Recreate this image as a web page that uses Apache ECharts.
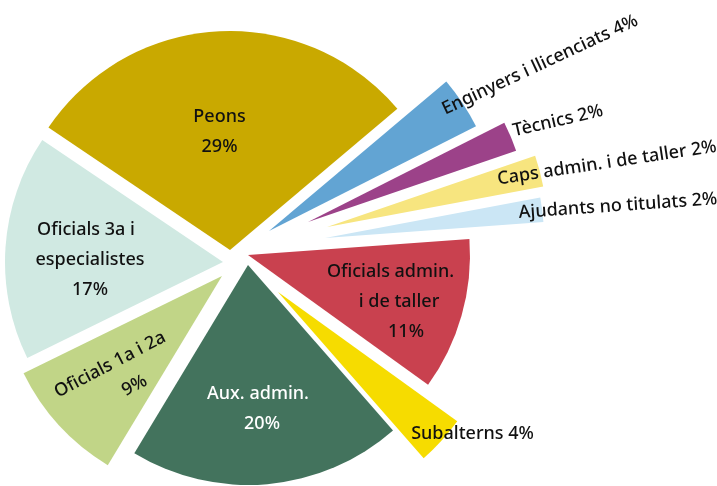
<!DOCTYPE html>
<html>
<head>
<meta charset="utf-8">
<script src="https://cdn.jsdelivr.net/npm/echarts@6/dist/echarts.min.js"></script>
<style>
  html, body { margin: 0; background: #fff; }
  #chart { width: 717px; height: 486px; }
</style>
</head>
<body>
<div id="chart"></div>
<script>
// data
const categories = ['Peons', 'Enginyers i llicenciats', 'Tècnics', 'Caps admin. i de taller', 'Ajudants no titulats',
  'Oficials admin. i de taller', 'Subalterns', 'Aux. admin.', 'Oficials 1a i 2a', 'Oficials 3a i especialistes']
const values = [29.4, 3.7, 2.2, 2.3, 1.8, 11.1, 3.6, 20.1, 9.1, 16.7]
// label text, {p} = rounded percent
const labelText = ['Peons\n{p}', 'Enginyers i llicenciats {p}', 'Tècnics {p}', 'Caps admin. i de taller {p}',
  'Ajudants no titulats {p}', 'Oficials admin.\ni de taller\n{p}', 'Subalterns {p}', 'Aux. admin.\n{p}',
  'Oficials 1a i 2a\n{p}', 'Oficials 3a i\nespecialistes\n{p}']

// styles / layout
const colors = ['#c9a900', '#62a4d3', '#9c4289', '#f7e57f', '#cbe6f5', '#c9414f', '#f6dc00', '#43735d', '#c1d587', '#d0e9e2']
const textColors = ['#111', '#111', '#111', '#111', '#111', '#111', '#111', '#fff', '#111', '#111']
const apex = [[230, 250], [269, 231], [308, 222], [327, 227], [325, 238], [248, 255], [278, 292], [248, 265], [222, 276], [223, 262]]
const radii = [219, 232, 220, 220, 219, 222, 221, 220, 221, 218]
const labelPos = [[219.5, 131.7], [540, 65], [558, 121], [607, 163], [618, 206], [399, 301.7], [472.5, 434], [260, 408.5], [117, 378], [90, 260]]
const labelRot = [0, 25, 13, 8.5, 4, 0, 0, 0, 27.6, 0]
const lineShift = [[0, 0], [0], [0], [0], [0], [-8.5, 0, 7], [0], [-2, 2], [0, 12], [-4, 0, 0]]

const font = { fontFamily: 'Noto Sans', fontSize: 18, fontWeight: 500, lineHeight: 30 }
const total = values.reduce((a, b) => a + b, 0)

const chart = echarts.init(document.getElementById('chart'))

const series = categories.map((name, i) => {
  const pct = Math.round(values[i] / total * 100) + '%'
  const lines = labelText[i].replace('{p}', pct).split('\n')
  const rich = {}
  lines.forEach((_, k) => {
    const s = lineShift[i][k] || 0
    rich['l' + k] = Object.assign({ color: textColors[i], padding: s > 0 ? [0, 0, 0, 2 * s] : [0, -2 * s, 0, 0] }, font)
  })
  const text = lines.map((t, k) => '{l' + k + '|' + t + '}').join('\n')

  return {
    type: 'pie',
    center: apex[i],
    radius: radii[i],
    startAngle: 146,
    clockwise: true,
    silent: true,
    avoidLabelOverlap: false,
    label: { show: false },
    labelLine: { show: false },
    labelLayout: { x: labelPos[i][0], y: labelPos[i][1], rotate: labelRot[i], align: 'center', verticalAlign: 'middle' },
    data: values.map((v, j) => j === i
      ? {
          value: v, name: categories[j],
          itemStyle: { color: colors[j], borderWidth: 0 },
          label: Object.assign({ show: true, position: 'inside', color: textColors[j], formatter: text, rich }, font)
        }
      : { value: v, name: categories[j], itemStyle: { color: 'rgba(0,0,0,0)', borderWidth: 0 }, label: { show: false } })
  }
})

chart.setOption({
  animation: false,
  backgroundColor: '#fff',
  series
})
</script>
</body>
</html>
